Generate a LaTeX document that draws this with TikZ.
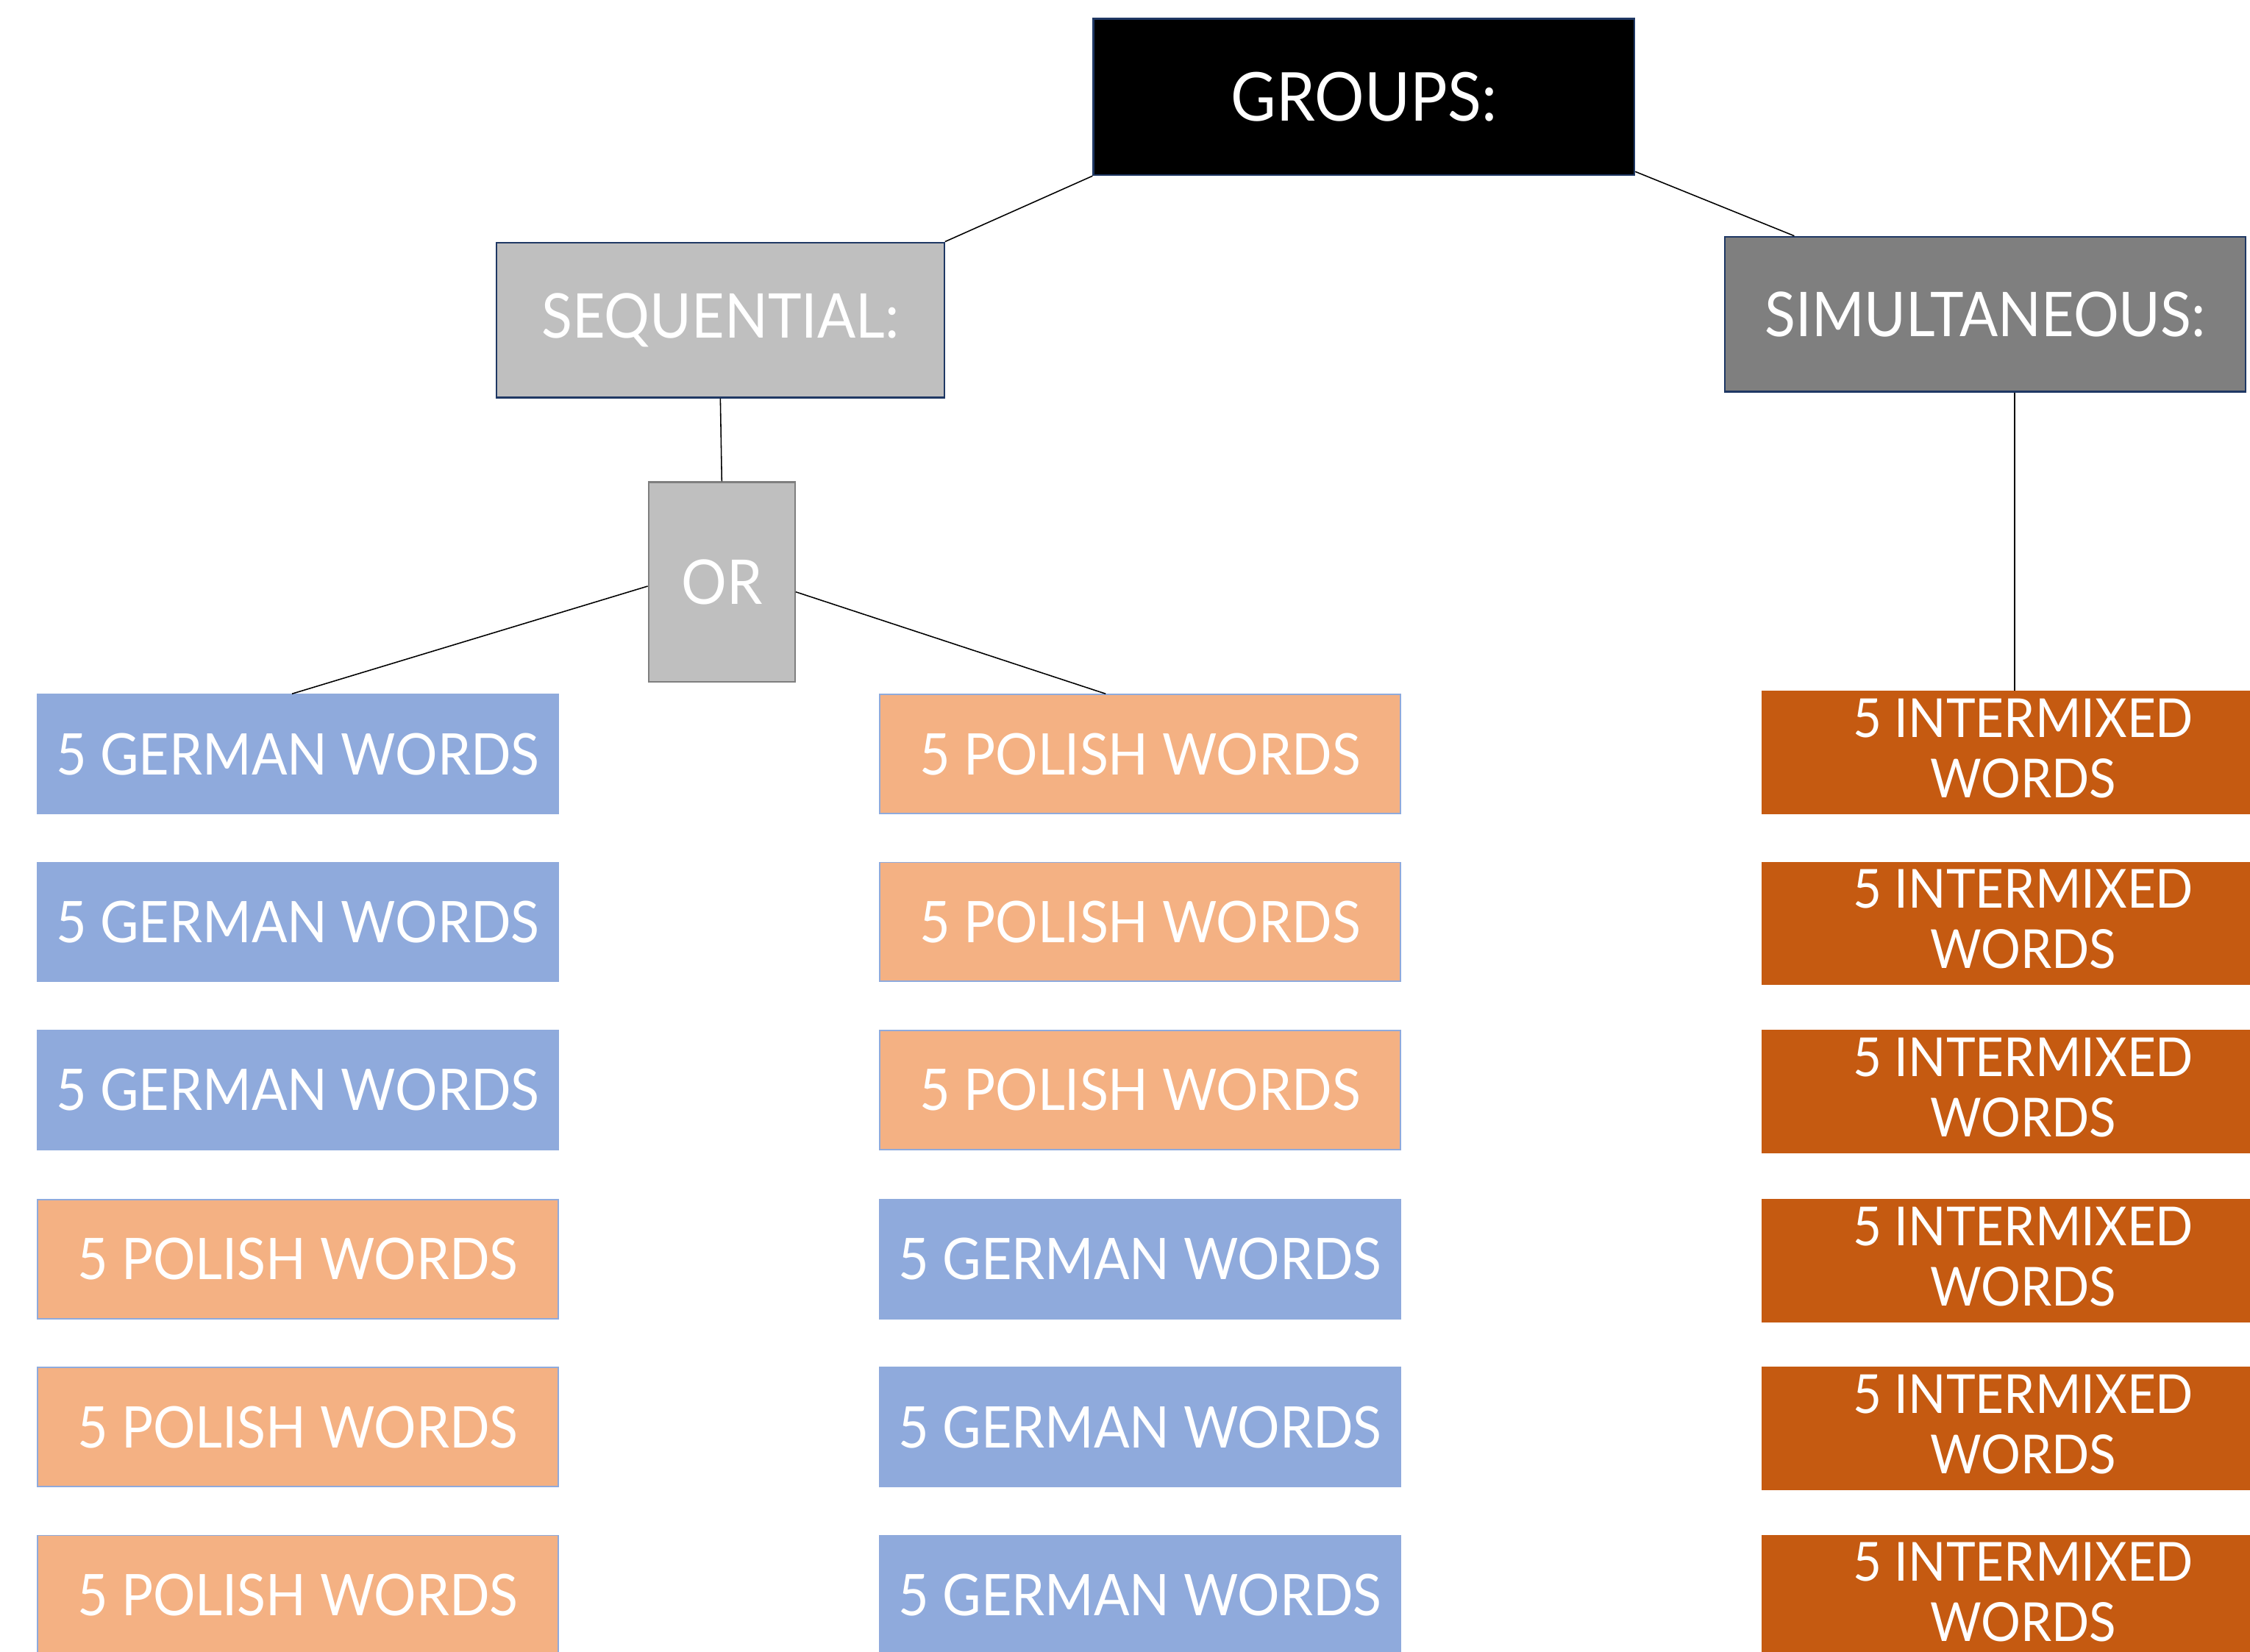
\documentclass[tikz,border=0pt]{standalone}
\usepackage{fontspec}
\setmainfont{Lato}[FakeStretch=0.92]
\usetikzlibrary{calc}
\definecolor{navy}{HTML}{1F3864}
\definecolor{lgray}{HTML}{BFBFBF}
\definecolor{dgray}{HTML}{7F7F7F}
\definecolor{gblue}{HTML}{8FAADC}
\definecolor{porange}{HTML}{F4B183}
\definecolor{burnt}{HTML}{C55A11}
\begin{document}
\begin{tikzpicture}[x=1pt,y=-1pt,
  box/.style={rectangle, inner sep=0pt, text=white, align=center},
  headbox/.style={box, draw=navy, line width=1.2pt, font=\fontsize{43}{50}\selectfont},
  germanbox/.style={box, fill=gblue, draw=gblue, line width=1pt, minimum width=363pt, minimum height=83pt, font=\fontsize{40}{48}\selectfont},
  polishbox/.style={box, fill=porange, draw=gblue, line width=1pt, minimum width=363pt, minimum height=83pt, font=\fontsize{40}{48}\selectfont},
  mixbox/.style={box, fill=burnt, draw=burnt, line width=1pt, minimum width=364pt, minimum height=85pt, text depth=6pt, font=\fontsize{37.5}{42}\selectfont},
  conn/.style={draw=black, line width=0.8pt}
]
\useasboundingbox (0,0) rectangle (1568,1151);
\node[headbox, fill=black, minimum width=377pt, minimum height=109pt, font=\fontsize{47}{56}\selectfont] (grp) at (950.5,67.5) {GROUPS:};
\node[headbox, fill=lgray, minimum width=312pt, minimum height=108pt] (seq) at (502,223) {SEQUENTIAL:};
\node[headbox, fill=dgray, minimum width=363pt, minimum height=108pt] (sim) at (1383.5,219) {SIMULTANEOUS:};
\node[box, fill=lgray, draw=dgray, line width=1.2pt, minimum width=102pt, minimum height=139pt, font=\fontsize{43}{50}\selectfont] (or) at (503,405.5) {OR};

\node[germanbox] (l1) at (207.5,525.5) {5 GERMAN WORDS};
\node[germanbox] (l2) at (207.5,642.5) {5 GERMAN WORDS};
\node[germanbox] (l3) at (207.5,759.5) {5 GERMAN WORDS};
\node[polishbox] (l4) at (207.5,877.5) {5 POLISH WORDS};
\node[polishbox] (l5) at (207.5,994.5) {5 POLISH WORDS};
\node[polishbox] (l6) at (207.5,1111.5) {5 POLISH WORDS};

\node[polishbox] (m1) at (794.5,525.5) {5 POLISH WORDS};
\node[polishbox] (m2) at (794.5,642.5) {5 POLISH WORDS};
\node[polishbox] (m3) at (794.5,759.5) {5 POLISH WORDS};
\node[germanbox] (m4) at (794.5,877.5) {5 GERMAN WORDS};
\node[germanbox] (m5) at (794.5,994.5) {5 GERMAN WORDS};
\node[germanbox] (m6) at (794.5,1111.5) {5 GERMAN WORDS};

\node[mixbox] (r1) at (1410,524.5) {5 INTERMIXED\\WORDS};
\node[mixbox] (r2) at (1410,643.5) {5 INTERMIXED\\WORDS};
\node[mixbox] (r3) at (1410,760.5) {5 INTERMIXED\\WORDS};
\node[mixbox] (r4) at (1410,878.5) {5 INTERMIXED\\WORDS};
\node[mixbox] (r5) at (1410,995.5) {5 INTERMIXED\\WORDS};
\node[mixbox] (r6) at (1410,1112.5) {5 INTERMIXED\\WORDS};

\draw[conn] (grp.south west) -- (seq.north east);
\draw[conn] ($(grp.south east)+(0,-3)$) -- ($(sim.north west)+(49,0)$);
\draw[conn] (seq.south) -- (or.north);
\draw[conn] ($(or.west)+(0,3)$) -- ($(l1.north)+(-4,0)$);
\draw[conn] ($(or.east)+(0,7)$) -- ($(m1.north)+(-24,0)$);
\coordinate (rtop) at ($(r1.north)+(-6,0)$);
\draw[conn] (rtop |- sim.south) -- (rtop);
\end{tikzpicture}
\end{document}
